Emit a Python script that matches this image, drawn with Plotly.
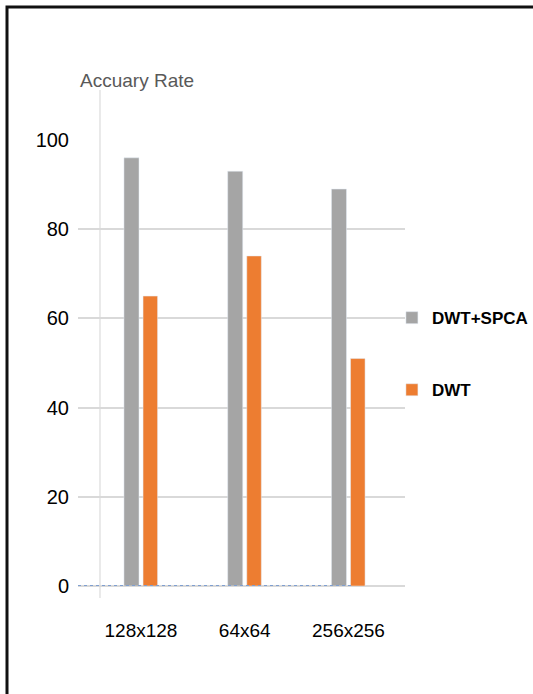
import plotly.graph_objects as go

categories = ["128x128", "64x64", "256x256"]
dwt_spca = [96, 93, 89]
dwt = [65, 74, 51]
y_ticks = [0, 20, 40, 60, 80, 100]

FONT = "Liberation Sans, Arial, sans-serif"
GRAY = "#A5A5A5"
ORANGE = "#ED7D31"

fig = go.Figure()
fig.add_trace(go.Bar(x=categories, y=dwt_spca, name="DWT+SPCA", marker_color=GRAY,
                     width=0.145, offset=-0.164, legendgroup="a"))
fig.add_trace(go.Bar(x=categories, y=dwt, name="DWT", marker_color=ORANGE,
                     width=0.14, offset=0.02, legendgroup="b"))

W, H = 533, 694
L, R, T, B = 78, 128, 140, 108
PW, PH = W - L - R, H - T - B

# frame (top and left edges) as one path, in paper coordinates
fx0 = (7 - L) / PW
fx1 = (W + 5 - L) / PW
fy_top = (H - B - 7) / PH
fy_bot = -(B + 5) / PH
frame_path = f"M {fx1} {fy_top} L {fx0} {fy_top} L {fx0} {fy_bot}"

fig.update_layout(
    width=W, height=H,
    margin=dict(l=L, r=R, t=T, b=B, pad=0, autoexpand=False),
    plot_bgcolor="white", paper_bgcolor="white",
    font=dict(family=FONT, color="#000000"),
    barmode="overlay",
    showlegend=True,
    legend=dict(x=0.96, y=0.641, xanchor="left", yanchor="top",
                font=dict(family=FONT, size=17, color="#000000", weight="bold"),
                tracegroupgap=47, traceorder="grouped", bgcolor="rgba(0,0,0,0)"),
    xaxis=dict(range=[-0.607, 2.545], showgrid=False, zeroline=False, showline=False,
               ticks="", tickfont=dict(family=FONT, size=19, color="#000000"),
               ticklabelstandoff=31, fixedrange=True),
    yaxis=dict(range=[0, 100], tickvals=y_ticks, showgrid=True, gridcolor="#D9D9D9",
               gridwidth=1.5, zeroline=True, zerolinecolor="#D9D9D9", zerolinewidth=1.5,
               showline=False, ticks="", tickfont=dict(family=FONT, size=20, color="#000000"),
               ticklabelstandoff=8, fixedrange=True),
    annotations=[dict(text="Accuary Rate", xref="paper", yref="paper", x=0, y=(586 - 80) / PH,
                      xanchor="left", yanchor="middle", showarrow=False,
                      font=dict(family=FONT, size=19, color="#595959"))],
    shapes=[
        # light vertical axis line
        dict(type="line", xref="x", yref="paper", x0=-0.395, x1=-0.395,
             y0=-0.027, y1=1.112, line=dict(color="#E3E3E3", width=1.5), layer="below"),
        # dotted zero series line
        dict(type="line", xref="x", yref="y", x0=-0.607, x1=2.03, y0=0, y1=0,
             line=dict(color="#7F9FD0", width=2, dash="dot"), layer="above"),
        # frame
        dict(type="path", xref="paper", yref="paper", path=frame_path,
             line=dict(color="#111111", width=3)),
    ],
)

fig.write_html("out.html", config={"displayModeBar": False})
